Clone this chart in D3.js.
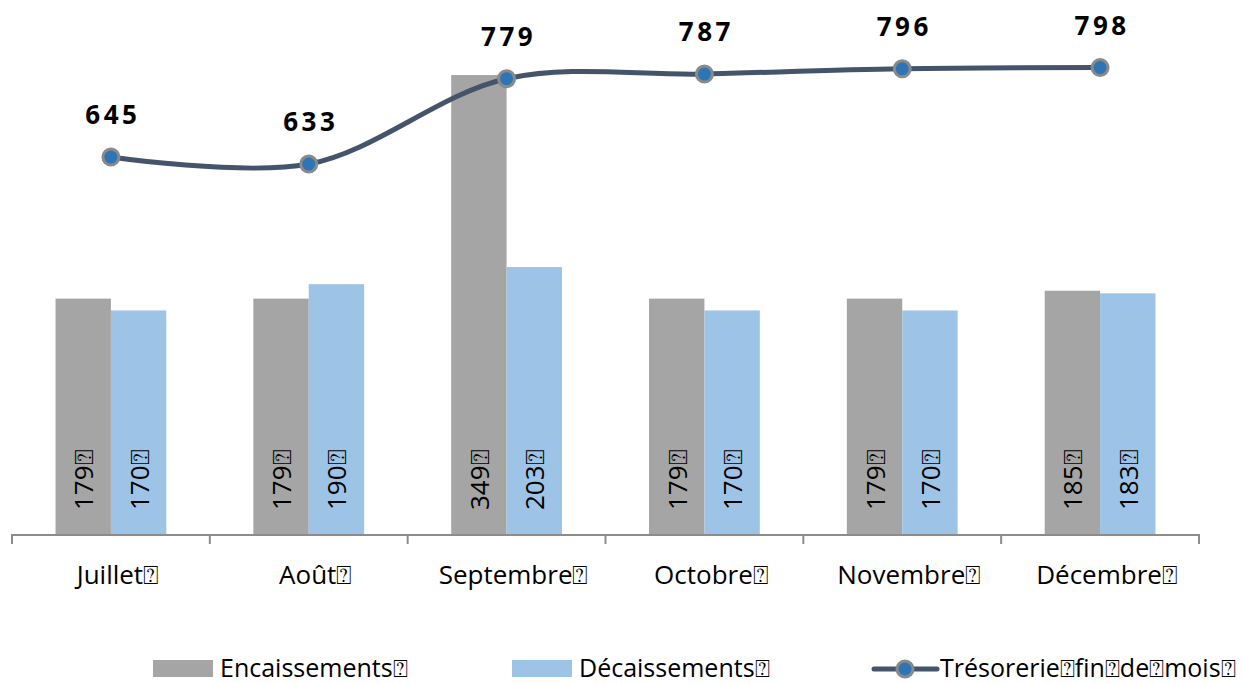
<!DOCTYPE html>
<html>
<head>
<meta charset="utf-8">
<script src="https://cdn.jsdelivr.net/npm/d3@7"></script>
<style>
  body { margin: 0; background: #fff; }
  text { font-family: "Open Sans", "Noto Sans", sans-serif; }
</style>
</head>
<body>
<div id="chart"></div>
<script>
const box = "\u2370";

// data
const months = ["Juillet", "Août", "Septembre", "Octobre", "Novembre", "Décembre"];
const encaissements = [179, 179, 349, 179, 179, 185];
const decaissements = [170, 190, 203, 170, 170, 183];
const tresorerie = [645, 633, 779, 787, 796, 798];
const seriesNames = ["Encaissements", "Décaissements", "Trésorerie fin de mois"];

const width = 1242, height = 684;
const plotLeft = 12, plotRight = 1199, base = 534, plotTop = 8;
const fs = 26;

const svg = d3.select("#chart").append("svg")
  .attr("width", width)
  .attr("height", height);

const x0 = d3.scaleBand().domain(months).range([plotLeft, plotRight]).padding(0);
const x1 = d3.scaleBand().domain(["enc", "dec"])
  .range([x0.bandwidth() * 0.22, x0.bandwidth() * 0.78]);
const yBar = d3.scaleLinear().domain([0, 400]).range([base, plotTop]);
const yLine = d3.scaleLinear().domain([0, 900]).range([base, plotTop]);

const rows = months.map((m, i) => ({
  month: m,
  bars: [
    {key: "enc", value: encaissements[i], color: "#A5A5A5"},
    {key: "dec", value: decaissements[i], color: "#9DC3E6"}
  ],
  tres: tresorerie[i]
}));

// bars
const groups = svg.append("g").selectAll("g")
  .data(rows)
  .enter().append("g")
  .attr("transform", d => `translate(${x0(d.month)},0)`);

groups.selectAll("rect")
  .data(d => d.bars)
  .enter().append("rect")
  .attr("x", d => x1(d.key))
  .attr("width", x1.bandwidth())
  .attr("y", d => yBar(d.value))
  .attr("height", d => base - yBar(d.value))
  .attr("fill", d => d.color);

groups.selectAll("text.val")
  .data(d => d.bars)
  .enter().append("text")
  .attr("class", "val")
  .attr("transform", d => `translate(${x1(d.key) + x1.bandwidth() / 2 + 10},${base - 24}) rotate(-90)`)
  .attr("font-size", fs)
  .attr("fill", "#000")
  .text(d => d.value + box);

// x axis
const axis = svg.append("g");
axis.append("line")
  .attr("x1", plotLeft).attr("x2", plotRight)
  .attr("y1", base + 1).attr("y2", base + 1)
  .attr("stroke", "#8c8c8c").attr("stroke-width", 2);
const tickPos = months.map(m => x0(m)).concat([plotRight]);
axis.selectAll("line.tick")
  .data(tickPos)
  .enter().append("line")
  .attr("class", "tick")
  .attr("x1", d => d).attr("x2", d => d)
  .attr("y1", base).attr("y2", base + 10)
  .attr("stroke", "#8c8c8c").attr("stroke-width", 2);
axis.selectAll("text")
  .data(months)
  .enter().append("text")
  .attr("x", d => x0(d) + x0.bandwidth() / 2 + 7)
  .attr("y", 584)
  .attr("text-anchor", "middle")
  .attr("font-size", fs)
  .attr("fill", "#000")
  .text(d => d + box);

// line
const cx = d => x0(d.month) + x0.bandwidth() / 2;
const line = d3.line()
  .x(cx)
  .y(d => yLine(d.tres))
  .curve(d3.curveCatmullRom.alpha(0.5));

svg.append("path")
  .datum(rows)
  .attr("d", line)
  .attr("fill", "none")
  .attr("stroke", "#44546A")
  .attr("stroke-width", 5);

svg.append("g").selectAll("circle")
  .data(rows)
  .enter().append("circle")
  .attr("cx", cx)
  .attr("cy", d => yLine(d.tres))
  .attr("r", 8)
  .attr("fill", "#2E75B6")
  .attr("stroke", "#8a8a8a")
  .attr("stroke-width", 3);

svg.append("g").selectAll("text")
  .data(rows)
  .enter().append("text")
  .attr("x", d => cx(d) + 2)
  .attr("y", d => yLine(d.tres) - 33)
  .attr("text-anchor", "middle")
  .attr("font-family", "Liberation Sans, Arial, sans-serif")
  .attr("font-weight", "bold")
  .attr("font-size", 26)
  .attr("letter-spacing", 3.5)
  .attr("fill", "#000")
  .text(d => d.tres);

// legend
const legend = svg.append("g").attr("font-size", 25);
legend.append("rect").attr("x", 153).attr("y", 660).attr("width", 60).attr("height", 17).attr("fill", "#A5A5A5");
legend.append("text").attr("x", 220).attr("y", 677).text(seriesNames[0] + box);
legend.append("rect").attr("x", 512).attr("y", 660).attr("width", 60).attr("height", 17).attr("fill", "#9DC3E6");
legend.append("text").attr("x", 579).attr("y", 677).text(seriesNames[1] + box);
legend.append("line").attr("x1", 874).attr("x2", 937).attr("y1", 669).attr("y2", 669)
  .attr("stroke", "#44546A").attr("stroke-width", 5).attr("stroke-linecap", "round");
legend.append("circle").attr("cx", 905).attr("cy", 669).attr("r", 8)
  .attr("fill", "#2E75B6").attr("stroke", "#8a8a8a").attr("stroke-width", 3);
legend.append("text").attr("x", 940).attr("y", 677)
  .text(seriesNames[2].split(" ").join(box) + box);
</script>
</body>
</html>
